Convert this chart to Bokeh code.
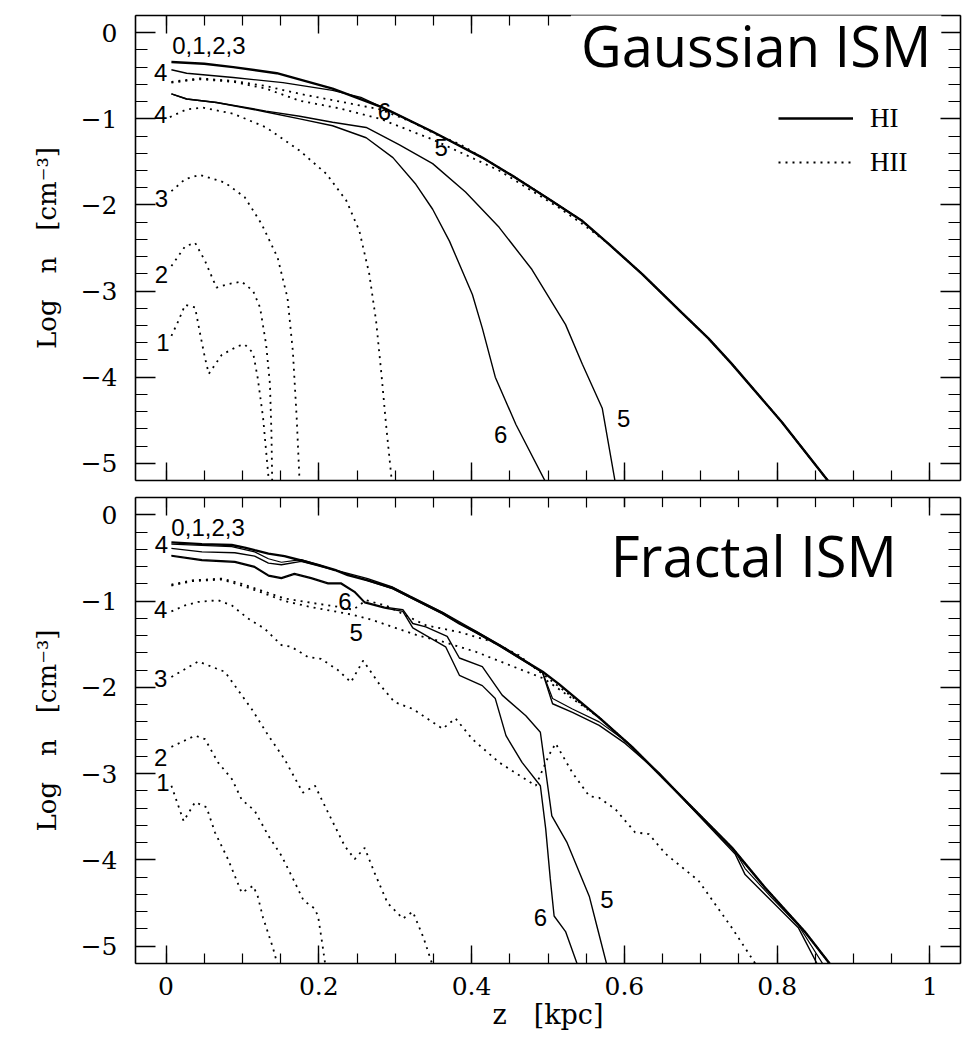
from bokeh.plotting import figure
from bokeh.models import (Range1d, FixedTicker, LinearAxis, Label, Legend, LegendItem,
                          CustomJSTickFormatter)
from bokeh.layouts import column
from bokeh.embed import file_html
from bokeh.resources import INLINE
from bokeh.core.properties import value

# ---------------- axis ticks / labels ----------------
X_TICKS = [0.0, 0.2, 0.4, 0.6, 0.8, 1.0]
X_TICK_LABELS = ["0", "0.2", "0.4", "0.6", "0.8", "1"]
Y_TICKS = [0, -1, -2, -3, -4, -5]
Y_TICK_LABELS = ["0", "\u22121", "\u22122", "\u22123", "\u22124", "\u22125"]
X_LABEL = "z\u2003[kpc]"
Y_LABEL = "Log\u2003n\u2003[cm\u207b\u00b3]"

# ---------------- Gaussian ISM (top panel) ----------------
G_HI_0123_X = [0.007, 0.05, 0.088, 0.145, 0.218, 0.284, 0.349, 0.414, 0.457, 0.501, 0.544, 0.579, 0.623, 0.675, 0.71, 0.74, 0.806, 0.868]
G_HI_0123_Y = [-0.34, -0.36, -0.40, -0.47, -0.65, -0.87, -1.15, -1.45, -1.68, -1.93, -2.18, -2.45, -2.80, -3.25, -3.55, -3.84, -4.52, -5.22]

G_HI_4_X = [0.007, 0.027, 0.088, 0.153, 0.218, 0.255, 0.284, 0.349, 0.414, 0.457, 0.501, 0.544, 0.579, 0.623, 0.675, 0.71, 0.74, 0.806, 0.868]
G_HI_4_Y = [-0.43, -0.47, -0.52, -0.58, -0.67, -0.75, -0.87, -1.15, -1.45, -1.68, -1.93, -2.18, -2.45, -2.80, -3.25, -3.55, -3.84, -4.52, -5.22]

G_HI_5_X = [0.007, 0.027, 0.066, 0.131, 0.175, 0.218, 0.262, 0.305, 0.349, 0.392, 0.436, 0.479, 0.523, 0.545, 0.571, 0.588]
G_HI_5_Y = [-0.71, -0.77, -0.81, -0.91, -0.97, -1.04, -1.10, -1.30, -1.52, -1.85, -2.26, -2.75, -3.39, -3.85, -4.36, -5.22]

G_HI_6_X = [0.007, 0.027, 0.066, 0.131, 0.175, 0.218, 0.262, 0.297, 0.327, 0.349, 0.371, 0.401, 0.414, 0.431, 0.458, 0.497]
G_HI_6_Y = [-0.71, -0.77, -0.81, -0.92, -1.00, -1.08, -1.22, -1.45, -1.76, -2.05, -2.42, -3.04, -3.43, -4.00, -4.55, -5.22]

G_HII_1_X = [0.007, 0.016, 0.025, 0.038, 0.044, 0.051, 0.056, 0.073, 0.094, 0.103, 0.114, 0.120, 0.127, 0.131, 0.135]
G_HII_1_Y = [-3.52, -3.35, -3.16, -3.19, -3.47, -3.78, -3.96, -3.74, -3.64, -3.62, -3.72, -4.01, -4.47, -4.86, -5.25]

G_HII_2_X = [0.007, 0.025, 0.038, 0.051, 0.066, 0.081, 0.099, 0.114, 0.123, 0.131, 0.136, 0.138, 0.139]
G_HII_2_Y = [-2.71, -2.48, -2.44, -2.65, -2.96, -2.92, -2.89, -3.00, -3.19, -3.62, -4.08, -4.66, -5.25]

G_HII_3_X = [0.007, 0.025, 0.044, 0.077, 0.103, 0.125, 0.146, 0.159, 0.166, 0.171, 0.175]
G_HII_3_Y = [-1.84, -1.70, -1.65, -1.74, -1.91, -2.22, -2.61, -3.08, -3.70, -4.47, -5.25]

G_HII_4_X = [0.005, 0.027, 0.048, 0.088, 0.131, 0.175, 0.210, 0.236, 0.253, 0.266, 0.275, 0.282, 0.288, 0.296]
G_HII_4_Y = [-0.98, -0.89, -0.87, -0.94, -1.10, -1.37, -1.64, -1.95, -2.30, -2.80, -3.35, -3.97, -4.55, -5.25]

G_HII_5_X = [0.007, 0.044, 0.088, 0.131, 0.175, 0.228, 0.280, 0.349, 0.436, 0.514, 0.545, 0.579, 0.623, 0.675, 0.71, 0.74, 0.806, 0.868]
G_HII_5_Y = [-0.58, -0.54, -0.57, -0.65, -0.79, -0.88, -1.00, -1.24, -1.60, -2.03, -2.22, -2.45, -2.80, -3.25, -3.55, -3.84, -4.52, -5.22]

G_HII_6_X = [0.007, 0.044, 0.088, 0.131, 0.175, 0.228, 0.280, 0.320, 0.358, 0.384, 0.414, 0.457, 0.501, 0.544, 0.579, 0.623, 0.675, 0.71, 0.74, 0.806, 0.868]
G_HII_6_Y = [-0.57, -0.53, -0.56, -0.62, -0.71, -0.80, -0.89, -1.03, -1.20, -1.29, -1.45, -1.68, -1.93, -2.18, -2.45, -2.80, -3.25, -3.55, -3.84, -4.52, -5.22]

G_LABEL_TEXT = ["0,1,2,3", "4", "4", "3", "2", "1", "6", "5", "6", "5"]
G_LABEL_X = [0.056, -0.007, -0.007, -0.006, -0.006, -0.004, 0.286, 0.360, 0.438, 0.599]
G_LABEL_Y = [-0.15, -0.46, -0.95, -1.92, -2.81, -3.60, -0.91, -1.33, -4.67, -4.48]

# ---------------- Fractal ISM (bottom panel) ----------------
F_HI_0123_X = [0.007, 0.047, 0.086, 0.103, 0.116, 0.134, 0.155, 0.177, 0.199, 0.221, 0.238, 0.264, 0.297, 0.319,
               0.362, 0.384, 0.406, 0.436, 0.458, 0.493, 0.514, 0.567, 0.61, 0.654, 0.684, 0.741, 0.784, 0.836, 0.873]
F_HI_0123_Y = [-0.32, -0.34, -0.35, -0.38, -0.41, -0.45, -0.48, -0.53, -0.58, -0.64, -0.70, -0.76, -0.85, -0.95,
               -1.14, -1.26, -1.36, -1.51, -1.63, -1.82, -1.96, -2.35, -2.69, -3.08, -3.35, -3.86, -4.32, -4.83, -5.25]

F_HI_4_X = [0.007, 0.047, 0.09, 0.116, 0.134, 0.151, 0.177, 0.203, 0.238, 0.264, 0.297, 0.319, 0.362, 0.406,
            0.458, 0.493, 0.506, 0.532, 0.567, 0.601, 0.645, 0.684, 0.745, 0.758, 0.793, 0.828, 0.855]
F_HI_4_Y = [-0.39, -0.43, -0.44, -0.48, -0.56, -0.58, -0.54, -0.60, -0.68, -0.74, -0.84, -0.94, -1.13, -1.35,
            -1.62, -1.83, -2.19, -2.29, -2.44, -2.65, -2.99, -3.36, -3.93, -4.17, -4.48, -4.79, -5.25]

F_HI_0123B_X = [0.007, 0.086, 0.116, 0.134, 0.151, 0.177, 0.203, 0.238, 0.297, 0.362, 0.436, 0.493,
                0.506, 0.532, 0.567, 0.601, 0.645, 0.684, 0.745, 0.758, 0.793, 0.828, 0.863]
F_HI_0123B_Y = [-0.34, -0.37, -0.43, -0.51, -0.55, -0.52, -0.59, -0.69, -0.86, -1.15, -1.52, -1.83,
                -2.13, -2.25, -2.40, -2.62, -2.99, -3.35, -3.90, -4.10, -4.44, -4.76, -5.25]

F_HI_5_X = [0.007, 0.047, 0.09, 0.116, 0.134, 0.151, 0.168, 0.19, 0.212, 0.229, 0.247, 0.26, 0.286, 0.31,
            0.323, 0.34, 0.368, 0.384, 0.414, 0.44, 0.471, 0.49, 0.505, 0.525, 0.554, 0.565, 0.578]
F_HI_5_Y = [-0.47, -0.52, -0.54, -0.60, -0.70, -0.73, -0.68, -0.73, -0.79, -0.79, -0.89, -1.01, -1.07, -1.10,
            -1.26, -1.30, -1.41, -1.66, -1.76, -2.09, -2.33, -2.52, -3.49, -3.80, -4.42, -4.80, -5.25]

F_HI_6_X = [0.007, 0.047, 0.09, 0.116, 0.134, 0.151, 0.168, 0.19, 0.212, 0.229, 0.247, 0.26, 0.286, 0.31,
            0.323, 0.366, 0.384, 0.414, 0.431, 0.445, 0.466, 0.49, 0.497, 0.503, 0.508, 0.523, 0.54]
F_HI_6_Y = [-0.48, -0.53, -0.55, -0.61, -0.71, -0.74, -0.69, -0.74, -0.80, -0.80, -0.90, -1.02, -1.08, -1.12,
            -1.31, -1.53, -1.86, -1.98, -2.13, -2.56, -2.87, -3.14, -3.64, -4.22, -4.65, -4.83, -5.25]

F_HII_1_X = [0.007, 0.023, 0.038, 0.053, 0.064, 0.081, 0.099, 0.114, 0.12, 0.127, 0.14, 0.147]
F_HII_1_Y = [-3.14, -3.55, -3.33, -3.39, -3.68, -3.99, -4.38, -4.30, -4.42, -4.67, -5.02, -5.25]

F_HII_2_X = [0.007, 0.038, 0.051, 0.068, 0.086, 0.099, 0.116, 0.134, 0.151, 0.168, 0.18, 0.194, 0.199, 0.205, 0.209]
F_HII_2_Y = [-2.69, -2.56, -2.60, -2.87, -3.06, -3.30, -3.43, -3.72, -3.95, -4.25, -4.47, -4.56, -4.65, -5.00, -5.25]

F_HII_3_X = [0.007, 0.042, 0.077, 0.09, 0.112, 0.134, 0.155, 0.179, 0.195, 0.212, 0.234, 0.247, 0.26, 0.273,
             0.29, 0.31, 0.323, 0.337, 0.35]
F_HII_3_Y = [-1.88, -1.70, -1.82, -1.98, -2.25, -2.56, -2.83, -3.22, -3.14, -3.45, -3.84, -3.99, -3.86, -4.15,
             -4.50, -4.68, -4.60, -4.90, -5.25]

F_HII_4_X = [0.007, 0.025, 0.042, 0.068, 0.086, 0.107, 0.129, 0.151, 0.164, 0.186, 0.203, 0.225, 0.242, 0.258,
             0.279, 0.299, 0.323, 0.362, 0.379, 0.401, 0.436, 0.484, 0.501, 0.51, 0.532, 0.554, 0.567, 0.588,
             0.614, 0.632, 0.654, 0.697, 0.741, 0.775]
F_HII_4_Y = [-1.12, -1.05, -1.01, -0.99, -1.05, -1.20, -1.32, -1.51, -1.53, -1.65, -1.67, -1.80, -1.94, -1.69,
             -1.96, -2.17, -2.25, -2.48, -2.36, -2.60, -2.87, -3.14, -2.79, -2.65, -2.99, -3.26, -3.28, -3.41,
             -3.68, -3.70, -3.93, -4.24, -4.79, -5.25]

F_HII_5_X = [0.007, 0.034, 0.073, 0.099, 0.125, 0.155, 0.19, 0.221, 0.245, 0.27, 0.30, 0.33, 0.362, 0.406,
             0.449, 0.495, 0.567, 0.61, 0.654, 0.684, 0.741, 0.784, 0.836, 0.873]
F_HII_5_Y = [-0.82, -0.77, -0.75, -0.82, -0.90, -1.00, -1.07, -1.12, -1.16, -1.22, -1.31, -1.40, -1.47, -1.59,
             -1.74, -1.90, -2.35, -2.69, -3.08, -3.35, -3.86, -4.32, -4.83, -5.25]

F_HII_6_X = [0.007, 0.034, 0.073, 0.099, 0.125, 0.155, 0.19, 0.221, 0.245, 0.262, 0.29, 0.31, 0.34, 0.384,
             0.427, 0.462, 0.495, 0.567, 0.61, 0.654, 0.684, 0.741, 0.784, 0.836, 0.873]
F_HII_6_Y = [-0.81, -0.76, -0.74, -0.80, -0.88, -0.97, -1.02, -1.06, -1.10, -0.99, -1.06, -1.15, -1.28, -1.36,
             -1.47, -1.63, -1.86, -2.35, -2.69, -3.08, -3.35, -3.86, -4.32, -4.83, -5.25]

F_LABEL_TEXT = ["0,1,2,3", "4", "4", "3", "2", "1", "6", "5", "6", "5"]
F_LABEL_X = [0.055, -0.006, -0.007, -0.007, -0.007, -0.004, 0.234, 0.249, 0.490, 0.577]
F_LABEL_Y = [-0.15, -0.35, -1.10, -1.90, -2.81, -3.10, -1.01, -1.36, -4.67, -4.46]

# ---------------- helpers ----------------
X_MINOR = [round(0.05 * i, 2) for i in range(-1, 22)]
Y_MINOR = [round(-0.2 * i, 1) for i in range(-1, 27)]
BLANK = "return ''"


def style_axis(ax, tick_in, minor_in):
    ax.axis_line_color = "black"
    ax.axis_line_width = 1.6
    ax.major_tick_line_color = "black"
    ax.major_tick_line_width = 1.4
    ax.minor_tick_line_color = "black"
    ax.minor_tick_line_width = 1.2
    ax.major_tick_in = tick_in
    ax.major_tick_out = 0
    ax.minor_tick_in = minor_in
    ax.minor_tick_out = 0
    ax.major_label_text_font = "DejaVu Serif"
    ax.major_label_text_font_size = "25px"
    ax.major_label_text_color = "black"
    ax.axis_label_text_color = "black"


def make_panel(height, border_top, border_bottom, show_x):
    p = figure(width=966, height=height, x_range=Range1d(-0.04, 1.04), y_range=Range1d(-5.2, 0.2),
               output_backend="svg", toolbar_location=None,
               min_border_left=135, min_border_right=6,
               min_border_top=border_top, min_border_bottom=border_bottom,
               outline_line_color=None, background_fill_color="white", border_fill_color="white")
    p.xgrid.visible = False
    p.ygrid.visible = False

    xa = p.xaxis[0]
    ya = p.yaxis[0]
    xa.ticker = FixedTicker(ticks=X_TICKS, minor_ticks=X_MINOR)
    ya.ticker = FixedTicker(ticks=Y_TICKS, minor_ticks=Y_MINOR)
    style_axis(xa, 18, 10)
    style_axis(ya, 20, 12)
    ya.major_label_overrides = dict(zip(Y_TICKS, Y_TICK_LABELS))
    ya.major_label_standoff = 18
    ya.axis_label = Y_LABEL
    ya.axis_label_text_font = "DejaVu Serif"
    ya.axis_label_text_font_size = "26px"
    ya.axis_label_text_font_style = "normal"
    ya.axis_label_standoff = 16
    if show_x:
        xa.major_label_overrides = dict(zip(X_TICKS, X_TICK_LABELS))
        xa.major_label_standoff = 13
        xa.axis_label = X_LABEL
        xa.axis_label_text_font = "DejaVu Serif"
        xa.axis_label_text_font_size = "27px"
        xa.axis_label_text_font_style = "normal"
        xa.axis_label_standoff = 1
    else:
        xa.formatter = CustomJSTickFormatter(code=BLANK)
        xa.major_label_standoff = 0

    top = LinearAxis(ticker=FixedTicker(ticks=X_TICKS, minor_ticks=X_MINOR),
                     formatter=CustomJSTickFormatter(code=BLANK))
    style_axis(top, 18, 10)
    top.major_label_standoff = 0
    right = LinearAxis(ticker=FixedTicker(ticks=Y_TICKS, minor_ticks=Y_MINOR),
                       formatter=CustomJSTickFormatter(code=BLANK))
    style_axis(right, 20, 12)
    right.major_label_standoff = 0
    p.add_layout(top, "above")
    p.add_layout(right, "right")
    return p


def solid(p, x, y, w=1.4):
    return p.line(x, y, line_color="black", line_width=w)


def dotted(p, x, y):
    return p.line(x, y, line_color="black", line_width=1.8, line_dash="2 5")


def curve_labels(p, xs, ys, texts):
    p.text(x=xs, y=ys, text=texts, text_align="center", text_baseline="middle",
           text_font=value("Liberation Sans"), text_font_size="24px", text_color="black")


def title_box(p, x, y, text):
    lab = Label(x=x, y=y, text=text, text_font="Open Sans", text_font_size="56px",
                text_color="black", text_align="left", text_baseline="alphabetic",
                background_fill_color="white", background_fill_alpha=1.0, padding=10,
                level="overlay")
    p.add_layout(lab)


# ---------------- top panel ----------------
p1 = make_panel(488, 15, 8, False)
r_hi_main = solid(p1, G_HI_0123_X, G_HI_0123_Y, 2.4)
solid(p1, G_HI_4_X, G_HI_4_Y)
solid(p1, G_HI_5_X, G_HI_5_Y)
solid(p1, G_HI_6_X, G_HI_6_Y)
r_hii = dotted(p1, G_HII_1_X, G_HII_1_Y)
dotted(p1, G_HII_2_X, G_HII_2_Y)
dotted(p1, G_HII_3_X, G_HII_3_Y)
dotted(p1, G_HII_4_X, G_HII_4_Y)
dotted(p1, G_HII_5_X, G_HII_5_Y)
dotted(p1, G_HII_6_X, G_HII_6_Y)
curve_labels(p1, G_LABEL_X, G_LABEL_Y, G_LABEL_TEXT)
title_box(p1, 0.530, -0.14, "Gaussian ISM")

legend = Legend(items=[LegendItem(label="HI", renderers=[r_hi_main]),
                       LegendItem(label="HII", renderers=[r_hii])],
                location=(643, 298), orientation="vertical",
                background_fill_alpha=0.0, border_line_color=None,
                label_text_font="Liberation Serif", label_text_font_size="27px",
                label_text_color="black", label_text_baseline="bottom",
                glyph_width=75, glyph_height=40, label_height=40, spacing=4,
                padding=0, margin=0, label_standoff=17)
p1.add_layout(legend)

# ---------------- bottom panel ----------------
p2 = make_panel(555, 9, 80, True)
solid(p2, F_HI_0123_X, F_HI_0123_Y, 2.4)
solid(p2, F_HI_0123B_X, F_HI_0123B_Y, 1.2)
solid(p2, F_HI_4_X, F_HI_4_Y)
solid(p2, F_HI_5_X, F_HI_5_Y)
solid(p2, F_HI_6_X, F_HI_6_Y)
dotted(p2, F_HII_1_X, F_HII_1_Y)
dotted(p2, F_HII_2_X, F_HII_2_Y)
dotted(p2, F_HII_3_X, F_HII_3_Y)
dotted(p2, F_HII_4_X, F_HII_4_Y)
dotted(p2, F_HII_5_X, F_HII_5_Y)
dotted(p2, F_HII_6_X, F_HII_6_Y)
curve_labels(p2, F_LABEL_X, F_LABEL_Y, F_LABEL_TEXT)
title_box(p2, 0.569, -0.47, "Fractal ISM")

layout = column(p1, p2, spacing=0)
open("out.html", "w").write(file_html(layout, INLINE))
